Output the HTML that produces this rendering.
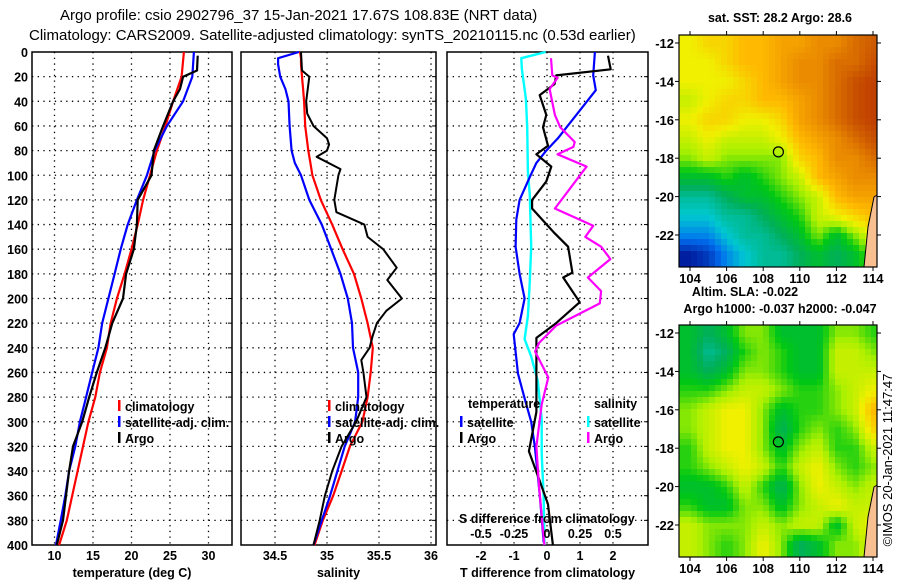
<!DOCTYPE html>
<html><head><meta charset="utf-8">
<style>
body{margin:0;background:#fff;}
svg text{font-family:"Liberation Sans",Arial,sans-serif;}
.t{font-size:15px;fill:#000;}
.lb{font-size:12.5px;font-weight:bold;fill:#000;}
</style></head>
<body>
<svg id="chart" width="900" height="580" viewBox="0 0 900 580" xmlns="http://www.w3.org/2000/svg">
<rect width="900" height="580" fill="#fff"/>
<text class="t" x="60" y="20">Argo profile: csio 2902796_37 15-Jan-2021 17.67S 108.83E (NRT data)</text>
<text class="t" x="29" y="40">Climatology: CARS2009. Satellite-adjusted climatology: synTS_20210115.nc (0.53d earlier)</text>
<g id="g"></g>
</svg>
<script>
// ---- data ----
const depthClimT=[0,20,40,60,80,100,120,140,160,180,200,220,240,260,280,300,320,340,360,380,400];
const tempClim=[26.8,26.5,25.4,24.4,23.3,22.4,21.5,20.8,20.0,19.1,18.1,17.3,16.8,15.9,15.3,14.4,13.7,13.0,12.3,11.6,10.6];
const tempSat=[28.1,27.9,26.7,24.6,23.0,22.0,20.7,19.5,18.6,17.8,17.0,16.2,15.7,14.9,14.1,13.3,12.7,11.9,11.4,10.8,10.2];
const depthArgoT=[3,15,20,30,40,60,80,100,120,140,160,180,200,220,240,260,280,300,320,340,360,380,400];
const tempArgo=[28.6,28.5,26.7,26.3,25.4,24.1,22.9,22.6,20.8,20.7,20.3,19.3,18.9,17.5,16.6,15.5,14.5,13.6,12.4,11.9,11.5,11.1,10.3];
const depthSatS=[0,5,10,20,30,40,60,80,90,100,120,140,160,180,200,220,240,260,280,300,320,340,360,380,400];
const salSat=[34.73,34.53,34.53,34.55,34.60,34.63,34.64,34.66,34.69,34.75,34.83,34.95,35.04,35.13,35.20,35.24,35.25,35.30,35.30,35.27,35.17,35.10,35.03,34.95,34.87];
const salClim=[34.74,34.75,34.75,34.76,34.77,34.78,34.79,34.82,34.84,34.86,34.94,35.05,35.15,35.26,35.33,35.39,35.44,35.42,35.39,35.34,35.22,35.14,35.06,34.96,34.88];
const depthArgoS=[0,15,20,40,50,60,70,75,80,85,95,100,120,130,140,150,160,175,185,200,210,220,230,240,250,260,280,300,320,340,360,380,400];
const salArgo=[34.75,34.76,34.83,34.80,34.81,34.87,35.00,35.02,35.00,34.90,35.13,35.11,35.07,35.09,35.36,35.39,35.54,35.67,35.58,35.72,35.57,35.48,35.44,35.41,35.33,35.35,35.38,35.28,35.14,35.05,34.98,34.93,34.87];
const depthDT=[0,19,31,70,80,90,102,120,136,158,180,200,220,229,261,281,300,320,340,359,381,398];
const dTsat=[1.45,1.4,1.48,0.33,-0.02,-0.32,-0.53,-0.83,-0.93,-0.95,-0.83,-0.68,-0.83,-1.01,-0.88,-0.68,-0.48,-0.37,-0.29,-0.22,-0.15,-0.1];
const depthDTa=[3,14,19,26,35,51,61,76,83,93,105,120,127,147,158,179,183,203,220,232,270,292,324,348,367,400];
const dTargo=[1.85,1.93,0.28,0.23,-0.22,-0.02,-0.12,0.03,-0.32,0.13,-0.02,-0.45,-0.45,0.23,0.64,0.77,0.49,0.99,0.28,-0.32,-0.32,-0.32,-0.55,-0.22,0.03,0.18];
const depthDS=[0,5,14,38,61,97,116,158,186,214,233,247,267,298,326,362,400];
const dSsat=[-0.01,-0.195,-0.19,-0.16,-0.15,-0.145,-0.13,-0.12,-0.13,-0.145,-0.17,-0.12,-0.07,-0.04,-0.04,-0.025,-0.02];
const depthDSa=[5,19,21,30,51,61,73,77,83,93,127,141,150,158,168,183,194,204,222,236,243,264,286,320,353,400];
const dSargo=[0.03,0.04,0.08,0.02,0.06,0.1,0.21,0.2,0.08,0.3,0.06,0.35,0.29,0.41,0.48,0.31,0.41,0.4,0.07,-0.06,-0.09,0.01,-0.04,-0.08,-0.06,-0.02];
const depthTicks=[0,20,40,60,80,100,120,140,160,180,200,220,240,260,280,300,320,340,360,380,400];
const tTicks=[10,15,20,25,30];
const sTicks=[34.5,35,35.5,36];
const dtTicks=[-2,-1,0,1,2];
const dsTicks=[-0.5,-0.25,0,0.25,0.5];
const dsTickLabels=['-0.5','-0.25','0','0.25','0.5'];
// SST map grid (rows lat -12..-23, cols lon 104..114)
const sstGrid=[
[6,6.5,6.5,7,7,7.5,7.5,8,8,8.5,8.8],
[6,6,6.5,7,7,7.5,8,8,8.5,8.5,9],
[6,6,6,6.5,7,7.5,8,8,8.5,9,9.2],
[5.5,6,6.5,6.5,7,7,7.5,8,8.5,9,9.2],
[6,6.5,6.5,6,6,6.5,7.5,8,8.5,9,9.2],
[5.5,6,5.5,5.5,5.5,6,7,7.5,8,8.5,9],
[5,5.5,5,5,5,5,6.5,7,8,8,8.5],
[4,4,4.5,4,4.5,5,5.5,7,7.5,8,8],
[3,3,3.5,4,4,4.5,5,5.5,7,7.5,7.5],
[2.5,2.5,3,3,3.5,4,4.5,5.5,6,6.5,7],
[2,2,2.5,3,3,3.5,4,5,4,5,6],
[1,1.3,2,2.5,3,3,3.5,4,3.5,4,5]];
const slaGrid=[
[4,3.5,4,5,5,4,4,4,5,5,4.5],
[4,3,3.5,4.5,5,4.5,4,4,5.5,5.5,5],
[4,3.5,4,5,5,4.5,4,4,5.5,5.5,5.5],
[4.5,4.5,5,5.5,5.5,5,4.5,4.5,5,5.5,6],
[5,5.5,6,6,5,4,4.5,4.5,5,5.5,7],
[5,5.5,6,6,5,3.5,4.5,5,4.5,5,6.5],
[4.5,5.5,6,6,5,4,5,5.5,4.5,4.5,5.5],
[4.5,5,5.5,6,5.5,4.5,5.5,6,5,4.5,5],
[4,4,4.5,5.5,4.5,3.5,5,6,5.5,5,5.5],
[4.5,4,4,5,5,4,5,5.5,6,5.5,5.5],
[5.5,5,5,5,5.5,5,5.5,5.5,4,5.5,6],
[5.5,5,4.5,5,6,5,3.5,4,5,5,6]];
const lonTicks=[104,106,108,110,112,114];
const latTicks=[-12,-14,-16,-18,-20,-22];
const argoLon=108.83, argoLat=-17.67;

// ---- drawing ----
const NS='http://www.w3.org/2000/svg';
const G=document.getElementById('g');
function mk(tag,attrs,parent){const e=document.createElementNS(NS,tag);for(const k in attrs)e.setAttribute(k,attrs[k]);(parent||G).appendChild(e);return e;}
function txt(x,y,s,anchor,cls){const e=mk('text',{x:x,y:y,'text-anchor':anchor||'middle','class':cls||'lb'});e.textContent=s;return e;}
const Y0=52,Y1=545;
const yD=d=>Y0+d*(Y1-Y0)/400;
const panels=[
 {name:'temperature-panel',x0:32,x1:232,fx:v=>54.5+(v-10)*7.7,ticks:tTicks,lab:'temperature (deg C)'},
 {name:'salinity-panel',x0:241,x1:436,fx:v=>327+(v-35)*104,ticks:sTicks,lab:'salinity'},
 {name:'difference-panel',x0:447,x1:648,fx:v=>547+33*v,ticks:dtTicks,lab:'T difference from climatology'}];
const fS=v=>547+132*v;
panels.forEach((p,i)=>{
  const g=mk('g',{});
  
  
  depthTicks.forEach(d=>{ if(d>0&&d<400){const l=mk('line',{x1:p.x0,x2:p.x1,y1:yD(d),y2:yD(d),stroke:'#000','stroke-width':1.3,'stroke-dasharray':'1.3 4.4'},g);
      }
    mk('line',{x1:p.x1-4,x2:p.x1,y1:yD(d),y2:yD(d),stroke:'#000'},g);
    if(i==0){const t=txt(28,yD(d)+5,String(d),'end');}
  });
  p.ticks.forEach((v,k)=>{const x=p.fx(v);
    const l=mk('line',{x1:x,x2:x,y1:Y0,y2:Y1,stroke:'#000','stroke-width':1.3,'stroke-dasharray':'1.3 4.4'},g);
    
    const t=txt(x,560,String(v));});
  const r=mk('rect',{x:p.x0,y:Y0,width:p.x1-p.x0,height:Y1-Y0,fill:'none',stroke:'#000','stroke-width':1.5},g);
  
  const t=txt((p.x0+p.x1)/2,577,p.lab);
});
function line(depths,vals,fx,color,w,name){
  const pts=vals.map((v,k)=>fx(v).toFixed(1)+','+yD(depths[k]).toFixed(1)).join(' ');
  const e=mk('polyline',{points:pts,fill:'none',stroke:color,'stroke-width':w,'stroke-linejoin':'round'});
  
  
}
const fT=panels[0].fx, fSal=panels[1].fx, fDT=panels[2].fx;
line(depthClimT,tempClim,fT,'#f00',2.2,'temp-climatology-line');
line(depthClimT,tempSat,fT,'#00f',2.2,'temp-satellite-line');
line(depthArgoT,tempArgo,fT,'#000',2.2,'temp-argo-line');
line(depthSatS,salClim,fSal,'#f00',2.2,'sal-climatology-line');
line(depthSatS,salSat,fSal,'#00f',2.2,'sal-satellite-line');
line(depthArgoS,salArgo,fSal,'#000',2,'sal-argo-line');
line(depthDS,dSsat,fS,'#0ff',2.4,'dsal-satellite-line');
line(depthDT,dTsat,fDT,'#00f',2.2,'dtemp-satellite-line');
line(depthDTa,dTargo,fDT,'#000',2.2,'dtemp-argo-line');
line(depthDSa,dSargo,fS,'#f0f',2.2,'dsal-argo-line');
// legends
function leg(x,y,col,s){const r=mk('rect',{x:x,y:y-6,width:2.5,height:11,fill:col});
  const t=txt(x+7,y+5,s,'start');}
[[118],[328]].forEach(a=>{leg(a[0],406,'#f00','climatology');leg(a[0],422,'#00f','satellite-adj. clim.');leg(a[0],438,'#000','Argo');});
let t=txt(468,408,'temperature','start');
t=txt(594,408,'salinity','start');
leg(460,422,'#00f','satellite');leg(460,438,'#000','Argo');leg(587,422,'#0ff','satellite');leg(587,438,'#f0f','Argo');
t=txt(459,523,'S difference from climatology','start');
dsTicks.forEach((v,k)=>{const e=txt(fS(v),538,dsTickLabels[k]);});

// maps
function cmap(v){const stops=[[1,[0,30,160]],[1.8,[0,110,240]],[2.5,[0,200,210]],[3.5,[0,175,90]],[4.3,[0,200,20]],[5.2,[170,240,0]],[6,[240,240,0]],[7,[255,185,0]],[8,[235,140,0]],[9,[200,80,0]],[10,[160,0,0]]];
  if(v<=stops[0][0])return stops[0][1];for(let i=1;i<stops.length;i++){if(v<=stops[i][0]){const a=stops[i-1],b=stops[i],f=(v-a[0])/(b[0]-a[0]);return a[1].map((c,j)=>Math.round(c+(b[1][j]-c)*f));}}return stops[stops.length-1][1];}
function drawMap(grid,mx0,my0,name,title1,title2,titleY){
  const mx1=mx0+198,my1=my0+232;
  const lonX=lon=>mx0+11+(lon-104)*18.3, latY=lat=>my0+8+(-12-lat)*19.2;
  const g=mk('g',{});
  const cs=6, rows=grid.length, cols=grid[0].length;
  for(let py=my0;py<my1;py+=cs){for(let px=mx0;px<mx1;px+=cs){
    const lon=104+(px+cs/2-mx0-11)/18.3, lat=-12-(py+cs/2-my0-8)/19.2;
    let r=(-12-lat), c=(lon-104);
    r=Math.max(0,Math.min(rows-1.001,r));c=Math.max(0,Math.min(cols-1.001,c));
    const r0=Math.floor(r),c0=Math.floor(c),fr=r-r0,fc=c-c0;
    const v=grid[r0][c0]*(1-fr)*(1-fc)+grid[r0+1][c0]*fr*(1-fc)+grid[r0][c0+1]*(1-fr)*fc+grid[r0+1][c0+1]*fr*fc;
    const col=cmap(v);
    const e=mk('rect',{x:px,y:py,width:Math.min(cs,mx1-px),height:Math.min(cs,my1-py),fill:'rgb('+col+')'},g);
    
    
  }}
  const land=mk('polygon',{points:[mx1-13,my1, mx1-9,my1-40, mx1-3,my1-70, mx1,my1-72, mx1,my1].join(' '),fill:'#f8c090',stroke:'#000','stroke-width':1},g);
  
  const fr=mk('rect',{x:mx0,y:my0,width:198,height:232,fill:'none',stroke:'#000','stroke-width':1.2},g);
  
  lonTicks.forEach(l=>{const x=lonX(l);mk('line',{x1:x,x2:x,y1:my0-4,y2:my0,stroke:'#000'},g);mk('line',{x1:x,x2:x,y1:my1,y2:my1+4,stroke:'#000'},g);
    const e=txt(x,my1+16,String(l));e.setAttribute('style','font-size:13px');});
  latTicks.forEach(l=>{const y=latY(l);mk('line',{x1:mx0-4,x2:mx0,y1:y,y2:y,stroke:'#000'},g);mk('line',{x1:mx1,x2:mx1+4,y1:y,y2:y,stroke:'#000'},g);
    const e=txt(mx0-5,y+5,String(l),'end');e.setAttribute('style','font-size:13px');});
  const c=mk('circle',{cx:lonX(argoLon),cy:latY(argoLat),r:5,fill:'none',stroke:'#000','stroke-width':1.2},g);
  
}
drawMap(sstGrid,679,35,'sst-map');
drawMap(slaGrid,679,325,'sla-map');
t=txt(780,22,'sat. SST: 28.2 Argo: 28.6');
t=txt(745,296,'Altim. SLA: -0.022');
t=txt(780,313,'Argo h1000: -0.037 h2000: -0.047');
t=txt(0,0,'©IMOS 20-Jan-2021 11:47:47');t.setAttribute('transform','translate(892,460) rotate(-90)');t.setAttribute('style','font-weight:normal;font-size:13px');

</script>
</body></html>
